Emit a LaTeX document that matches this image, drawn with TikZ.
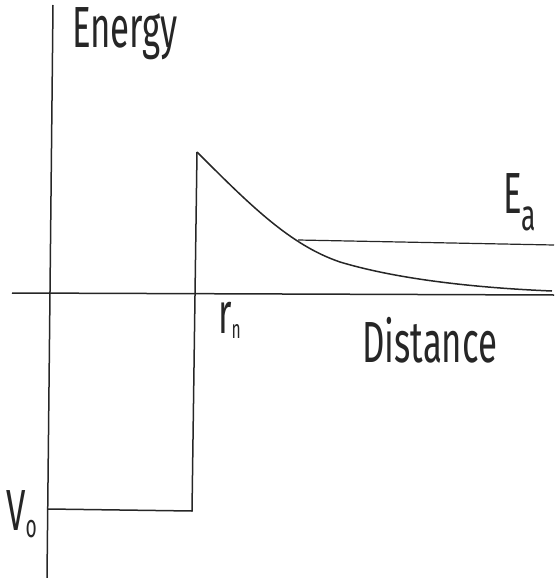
\documentclass[tikz,border=0pt]{standalone}
\usepackage{fontspec}
\setmainfont{Fira Sans}[FakeStretch=0.6]
\usepackage{tikz}
\usetikzlibrary{positioning, calc}

\begin{document}
\begin{tikzpicture}[x=1pt, y=-1pt,
      axis/.style={line width=1.5pt, black!85},
      well/.style={line width=1.5pt, black!85},
      lbl/.style={inner sep=0pt, font=\fontsize{58}{58}\selectfont, text=black!85},
    ]
    \useasboundingbox (0,0) rectangle (554,578);

    % Axes
    \coordinate (ytop) at (53,5);
    \coordinate (ybot) at (47,578);
    \coordinate (xleft) at (12,293);
    \coordinate (xright) at (554,295);
    \draw[axis] (ytop) -- (ybot);
    \draw[axis] (xleft) -- (xright);

    % Well and barrier
    \coordinate (vzero) at (48,509);
    \coordinate (wallfoot) at (192,511);
    \coordinate (peak) at (197,152);
    \coordinate (knee) at (340,262);
    \coordinate (tail) at (552,291);
    \draw[well] (vzero) -- (wallfoot) -- (peak);
    \draw[well] (peak) .. controls (250,205) and (290,245) .. (knee)
                       .. controls (400,280) and (480,288) .. (tail);

    % Energy level
    \coordinate (cross) at (298,240);
    \coordinate (eaend) at (554,245);
    \draw[well, line width=1.2pt] (cross) -- (eaend);

    % Labels
    \node[lbl, anchor=base west] (energy) at (72,48) {Energy};
    \node[lbl, anchor=base west] (dist) at (362,362) {Distance};
    \node[lbl, anchor=base west] (rn) at (218,333) {r\raisebox{-5pt}{\fontsize{26}{26}\selectfont n}};
    \node[lbl, anchor=base west] (ea) at (503,213) {E\raisebox{-17pt}{\fontsize{44}{44}\selectfont a}};
    \node[lbl, anchor=base west] (vo) at (6,530) {V\raisebox{-7pt}{\fontsize{32}{32}\selectfont o}};

  \end{tikzpicture}
\end{document}
